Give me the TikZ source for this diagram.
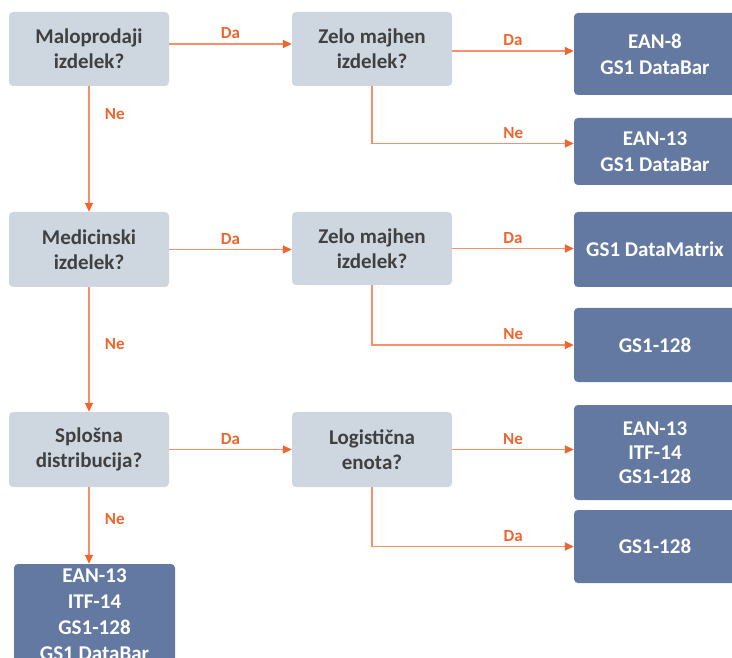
\documentclass[tikz,border=0pt]{standalone}
\usepackage{fontspec}
\setmainfont{Carlito}
\usetikzlibrary{arrows.meta}
\definecolor{qfill}{HTML}{CED6E0}
\definecolor{rfill}{HTML}{6479A1}
\definecolor{qtext}{HTML}{404040}
\definecolor{lineor}{HTML}{F7906A}
\definecolor{labor}{HTML}{F0642D}
\tikzset{
  qbox/.style={fill=qfill, rounded corners=4pt, minimum width=160pt, text=qtext, align=center, inner sep=0pt,
    font=\fontsize{21}{25}\selectfont\bfseries},
  rbox/.style={fill=rfill, rounded corners=4pt, minimum width=162pt, text=white, align=center, inner sep=0pt,
    font=\fontsize{21}{26}\selectfont\bfseries},
  arr/.style={draw=lineor, line width=1.8pt, -{Triangle[length=9pt,width=8pt,color=labor]}},
  lab/.style={text=labor, font=\fontsize{17}{20}\selectfont\bfseries, inner sep=1pt}
}
\begin{document}
\begin{tikzpicture}[x=1pt,y=-1pt]
\useasboundingbox (0,0) rectangle (732,658);
% question boxes
\node[qbox, minimum height=74pt] (q1) at (89,49) {Maloprodaji\\izdelek?};
\node[qbox, minimum height=75pt] (q2) at (89,249.5) {Medicinski\\izdelek?};
\node[qbox, minimum height=75pt] (q3) at (89,449.5) {Splošna\\distribucija?};
\node[qbox, minimum height=74pt] (z1) at (372,49) {Zelo majhen\\izdelek?};
\node[qbox, minimum height=73pt] (z2) at (372,248.5) {Zelo majhen\\izdelek?};
\node[qbox, minimum height=75pt] (z3) at (372,449.5) {Logistična\\enota?};
% result boxes
\node[rbox, minimum height=82pt] (r1) at (655,54) {EAN-8\\GS1 DataBar};
\node[rbox, minimum height=67pt] (r2) at (655,151.5) {EAN-13\\GS1 DataBar};
\node[rbox, minimum height=75pt] (r3) at (655,249.5) {GS1 DataMatrix};
\node[rbox, minimum height=74pt] (r4) at (655,345) {GS1-128};
\node[rbox, minimum height=95pt, font=\fontsize{21}{24}\selectfont\bfseries] (r5) at (655,452.5) {EAN-13\\ITF-14\\GS1-128};
\node[rbox, minimum height=102pt, minimum width=161pt, font=\fontsize{21}{26}\selectfont\bfseries] (b1) at (94.5,615) {EAN-13\\ITF-14\\GS1-128\\GS1 DataBar};
\node[rbox, minimum height=73pt] (r6) at (655,546.5) {GS1-128};
% row 1
\draw[arr] ([yshift=5pt]q1.east) -- node[lab, above=3pt] (l1) {Da} ([yshift=5pt]q1.east -| z1.west);
\draw[arr] ([yshift=-2pt]z1.east) -- node[lab, above=3pt] (l2) {Da} ([yshift=-2pt]z1.east -| r1.west);
\draw[arr] (z1.south) |- node[lab, pos=0.85, above=3pt] (l3) {Ne} ([yshift=8pt]r2.west);
\draw[arr] (q1.south) -- node[lab, pos=0.22, right=14pt] (l4) {Ne} (q2.north);
% row 2
\draw[arr] (q2.east) -- node[lab, above=3pt] (l5) {Da} (q2.east -| z2.west);
\draw[arr] (z2.east) -- node[lab, above=3pt] (l6) {Da} (z2.east -| r3.west);
\draw[arr] (z2.south) |- node[lab, pos=0.85, above=3pt] (l7) {Ne} (r4.west);
\draw[arr] (q2.south) -- node[lab, pos=0.46, right=14pt] (l8) {Ne} (q3.north);
% row 3
\draw[arr] (q3.east) -- node[lab, above=3pt] (l9) {Da} (z3.west);
\draw[arr] (z3.east) -- node[lab, above=3pt] (l10) {Ne} (z3.east -| r5.west);
\draw[arr] (z3.south) |- node[lab, pos=0.85, above=3pt] (l11) {Da} (r6.west);
\draw[arr] (q3.south) -- node[lab, pos=0.42, right=14pt] (l12) {Ne} (q3.south |- b1.north);
\end{tikzpicture}
\end{document}
